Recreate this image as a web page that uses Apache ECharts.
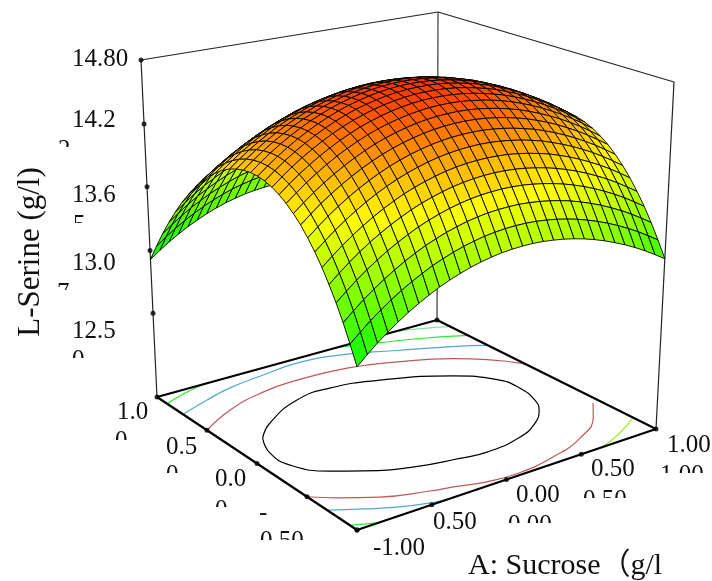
<!DOCTYPE html>
<html>
<head>
<meta charset="utf-8">
<title>L-Serine response surface</title>
<script src="https://cdn.jsdelivr.net/npm/echarts@6/dist/echarts.min.js"></script>
<style>html,body{margin:0;background:#fff}#chart{width:712px;height:581px}</style>
</head>
<body>
<div id="chart"></div>
<script>
// coded levels of both factors, one mesh line each
const gridCoded = [-1,-0.933,-0.867,-0.8,-0.733,-0.667,-0.6,-0.533,-0.467,-0.4,-0.333,-0.267,-0.2,-0.133,-0.067,0,0.067,0.133,0.2,0.267,0.333,0.4,0.467,0.533,0.6,0.667,0.733,0.8,0.867,0.933,1];

// L-Serine, one row per A level, one column per B level
const surfaceZ = [
[13.051,13.203,13.346,13.477,13.597,13.708,13.807,13.895,13.974,14.040,14.097,14.143,14.178,14.203,14.217,14.220,14.212,14.195,14.166,14.126,14.077,14.016,13.944,13.863,13.769,13.666,13.552,13.427,13.292,13.146,12.989],
[13.125,13.277,13.419,13.550,13.670,13.780,13.879,13.966,14.045,14.111,14.167,14.213,14.247,14.272,14.285,14.288,14.280,14.262,14.233,14.192,14.143,14.081,14.009,13.928,13.833,13.730,13.615,13.490,13.355,13.208,13.051],
[13.196,13.347,13.489,13.619,13.738,13.848,13.947,14.034,14.112,14.177,14.233,14.278,14.313,14.337,14.350,14.352,14.343,14.325,14.295,14.255,14.205,14.143,14.070,13.988,13.893,13.790,13.675,13.549,13.413,13.266,13.108],
[13.261,13.412,13.553,13.683,13.802,13.912,14.009,14.096,14.174,14.239,14.294,14.339,14.373,14.397,14.409,14.411,14.402,14.383,14.353,14.312,14.262,14.199,14.126,14.044,13.949,13.844,13.729,13.603,13.467,13.319,13.161],
[13.321,13.472,13.613,13.742,13.861,13.970,14.067,14.154,14.231,14.295,14.350,14.395,14.428,14.451,14.464,14.465,14.455,14.437,14.406,14.364,14.314,14.251,14.177,14.094,13.999,13.894,13.778,13.652,13.515,13.367,13.209],
[13.377,13.527,13.667,13.796,13.914,14.023,14.120,14.206,14.283,14.347,14.402,14.445,14.478,14.501,14.513,14.514,14.504,14.485,14.454,14.412,14.360,14.297,14.223,14.140,14.044,13.939,13.823,13.696,13.559,13.410,13.251],
[13.428,13.577,13.718,13.846,13.964,14.072,14.169,14.254,14.331,14.394,14.449,14.492,14.525,14.547,14.559,14.559,14.548,14.529,14.497,14.455,14.403,14.340,14.265,14.182,14.085,13.980,13.863,13.736,13.598,13.450,13.290],
[13.474,13.623,13.763,13.891,14.008,14.117,14.213,14.298,14.374,14.437,14.491,14.534,14.566,14.588,14.599,14.599,14.588,14.568,14.536,14.493,14.441,14.377,14.302,14.218,14.121,14.015,13.899,13.771,13.633,13.484,13.324],
[13.517,13.665,13.805,13.933,14.049,14.157,14.252,14.337,14.413,14.475,14.529,14.572,14.603,14.625,14.635,14.635,14.624,14.603,14.571,14.527,14.475,14.411,14.335,14.251,14.154,14.047,13.930,13.801,13.663,13.514,13.353],
[13.553,13.701,13.840,13.968,14.084,14.191,14.286,14.370,14.446,14.508,14.561,14.603,14.634,14.656,14.666,14.665,14.653,14.632,14.600,14.556,14.503,14.438,14.362,14.278,14.180,14.073,13.955,13.826,13.688,13.538,13.377],
[13.585,13.733,13.872,13.999,14.114,14.221,14.316,14.400,14.475,14.536,14.589,14.631,14.662,14.682,14.692,14.691,14.679,14.658,14.624,14.580,14.527,14.462,14.385,14.300,14.202,14.095,13.977,13.847,13.708,13.558,13.397],
[13.613,13.760,13.898,14.025,14.140,14.246,14.341,14.424,14.498,14.560,14.612,14.654,14.684,14.704,14.714,14.712,14.699,14.678,14.644,14.599,14.546,14.480,14.404,14.318,14.219,14.112,13.993,13.863,13.724,13.573,13.411],
[13.636,13.783,13.921,14.047,14.162,14.268,14.362,14.444,14.518,14.579,14.631,14.672,14.702,14.722,14.731,14.729,14.716,14.694,14.660,14.615,14.561,14.495,14.418,14.332,14.232,14.124,14.005,13.875,13.735,13.584,13.422],
[13.654,13.801,13.938,14.064,14.178,14.284,14.377,14.460,14.533,14.594,14.645,14.686,14.715,14.735,14.743,14.741,14.728,14.705,14.671,14.625,14.571,14.504,14.427,14.340,14.241,14.132,14.013,13.882,13.742,13.590,13.428],
[13.668,13.814,13.951,14.076,14.190,14.295,14.388,14.470,14.543,14.603,14.655,14.695,14.724,14.743,14.751,14.748,14.734,14.711,14.676,14.630,14.575,14.509,14.431,14.344,14.244,14.135,14.015,13.884,13.743,13.591,13.428],
[13.676,13.822,13.958,14.083,14.197,14.301,14.394,14.476,14.548,14.608,14.659,14.698,14.727,14.746,14.753,14.750,14.736,14.712,14.677,14.631,14.575,14.508,14.430,14.342,14.242,14.133,14.012,13.881,13.740,13.587,13.424],
[13.680,13.826,13.961,14.086,14.200,14.303,14.396,14.477,14.549,14.609,14.659,14.698,14.726,14.745,14.751,14.748,14.734,14.709,14.674,14.627,14.571,14.503,14.425,14.337,14.236,14.127,14.005,13.874,13.732,13.579,13.416],
[13.680,13.825,13.960,14.084,14.197,14.300,14.393,14.474,14.545,14.604,14.654,14.692,14.721,14.739,14.745,14.741,14.726,14.701,14.665,14.619,14.562,14.494,14.415,14.326,14.225,14.116,13.994,13.862,13.720,13.566,13.402],
[13.674,13.819,13.953,14.077,14.190,14.293,14.384,14.465,14.536,14.595,14.644,14.682,14.710,14.728,14.733,14.729,14.714,14.688,14.652,14.605,14.548,14.479,14.400,14.311,14.210,14.099,13.977,13.845,13.703,13.548,13.384],
[13.663,13.808,13.942,14.065,14.178,14.280,14.371,14.452,14.522,14.580,14.629,14.667,14.694,14.711,14.717,14.712,14.696,14.671,14.634,14.586,14.529,14.460,14.380,14.290,14.189,14.078,13.955,13.823,13.680,13.525,13.361],
[13.649,13.793,13.926,14.049,14.161,14.263,14.354,14.434,14.504,14.562,14.611,14.647,14.674,14.691,14.696,14.691,14.675,14.649,14.612,14.564,14.505,14.436,14.356,14.266,14.164,14.053,13.930,13.797,13.654,13.498,13.333],
[13.629,13.772,13.906,14.028,14.140,14.241,14.332,14.411,14.481,14.538,14.587,14.623,14.650,14.666,14.671,14.665,14.648,14.622,14.584,14.536,14.477,14.408,14.327,14.237,14.134,14.023,13.899,13.766,13.622,13.467,13.301],
[13.605,13.748,13.881,14.003,14.114,14.216,14.306,14.385,14.454,14.511,14.559,14.595,14.621,14.637,14.641,14.635,14.618,14.591,14.553,14.504,14.445,14.375,14.294,14.203,14.100,13.988,13.865,13.731,13.587,13.431,13.265],
[13.576,13.718,13.851,13.973,14.083,14.184,14.273,14.352,14.421,14.477,14.525,14.561,14.586,14.602,14.605,14.599,14.582,14.554,14.516,14.466,14.407,14.337,14.255,14.164,14.061,13.948,13.824,13.689,13.545,13.389,13.222],
[13.542,13.684,13.816,13.938,14.048,14.148,14.237,14.315,14.384,14.440,14.487,14.522,14.547,14.563,14.566,14.559,14.541,14.513,14.475,14.425,14.365,14.294,14.212,14.121,14.017,13.904,13.779,13.644,13.500,13.343,13.176],
[13.503,13.645,13.777,13.898,14.007,14.107,14.196,14.274,14.342,14.397,14.444,14.479,14.504,14.518,14.521,14.514,14.496,14.468,14.428,14.378,14.318,14.247,14.164,14.072,13.968,13.855,13.730,13.594,13.449,13.292,13.125],
[13.461,13.602,13.733,13.854,13.963,14.062,14.151,14.228,14.295,14.351,14.397,14.432,14.456,14.470,14.473,14.465,14.446,14.418,14.378,14.327,14.267,14.195,14.113,14.020,13.915,13.802,13.676,13.540,13.395,13.237,13.069],
[13.413,13.554,13.685,13.805,13.914,14.013,14.101,14.177,14.244,14.299,14.345,14.379,14.403,14.417,14.419,14.411,14.392,14.363,14.323,14.272,14.211,14.139,14.056,13.963,13.857,13.743,13.617,13.481,13.335,13.177,13.009],
[13.360,13.501,13.631,13.751,13.859,13.958,14.045,14.122,14.188,14.243,14.288,14.322,14.345,14.359,14.360,14.352,14.333,14.303,14.263,14.211,14.150,14.077,13.994,13.900,13.795,13.680,13.554,13.417,13.271,13.112,12.944],
[13.303,13.443,13.573,13.692,13.800,13.898,13.985,14.061,14.127,14.181,14.227,14.260,14.283,14.296,14.297,14.288,14.268,14.238,14.197,14.145,14.083,14.011,13.927,13.833,13.727,13.612,13.485,13.348,13.201,13.042,12.873],
[13.241,13.381,13.510,13.629,13.737,13.834,13.921,13.997,14.062,14.116,14.161,14.193,14.216,14.229,14.229,14.220,14.200,14.169,14.128,14.076,14.013,13.940,13.856,13.761,13.655,13.540,13.412,13.275,13.128,12.968,12.799]
];

const zTicks = [14.8, 14.22, 13.65, 13.07, 12.5];
const floorTicks = [-1, -0.5, 0, 0.5, 1];

// floor contours as [A, B] pairs
const contourBlack = [[-.79,.245],[-.645,.38],[-.337,.543],[-.086,.57],[.212,.496],[.58,.304],[.744,.112],[.77,-.062],[.735,-.247],[.673,-.37],[.55,-.5],[.374,-.6],[.12,-.644],[-.044,-.616],[-.314,-.548],[-.563,-.42],[-.715,-.313],[-.856,-.122],[-.864,.066],[-.79,.245]];
const contourRedTop = [[-1,.5],[-.738,.642],[-.438,.734],[-.178,.76],[.158,.736],[.444,.646],[.728,.498],[.87,.372],[1,.196]];
const contourRedBottom = [[-1,-.5],[-.87,-.61],[-.673,-.745],[-.41,-.854],[-.28,-.892],[-.1,-.955],[.105,-.975],[.362,-.928],[.62,-.822],[.844,-.638],[.955,-.485]];
const contourBlueTop = [[-1,.74],[-.772,.82],[-.57,.88],[-.3,.92],[-.04,.948],[.22,.91],[.54,.777],[.83,.64],[1,.534]];
const contourBlueBottom = [[-1,-.7],[-.83,-.81],[-.67,-.905],[-.496,-.976],[-.378,-1]];
const contourGreenFront = [[-1,-.93],[-.93,-.964],[-.86,-1]];
const contourGreenLeft = [[-1,.9],[-.814,.964],[-.643,1]];
const contourLimeRight = [[.64,-1],[.82,-.912],[1,-.79]];
const contourGreenBack = [[.286,1],[.53,.92],[.752,.84],[1,.717]];
const contourPaleBack = [[.7,1],[.85,.95],[1,.88]];

const zLabels = ['14.80', '14.2', '13.6', '13.0', '12.5'];
const bLabels = ['1.0', '0.5', '0.0', '-'];
const aLabels = ['-1.00', '0.50', '0.00', '0.50', '1.00'];

// cube corners on screen, floor and top
const FL = {F: [357, 530], R: [656, 429], L: [157, 397], B: [437, 320]};
const TP = {F: [357, 149], R: [674, 82], L: [141, 60], B: [438, 12]};
const zFloor = 11.74, zTop = 14.8;

function bil(q, s, t, k) {
  return q.F[k] * (1 - s) * (1 - t) + q.R[k] * s * (1 - t) + q.L[k] * (1 - s) * t + q.B[k] * s * t;
}
function project(a, b, z) {
  const s = (a + 1) / 2, t = (b + 1) / 2, f = (z - zFloor) / (zTop - zFloor);
  return [0, 1].map(k => bil(FL, s, t, k) * (1 - f) + bil(TP, s, t, k) * f);
}

// back cells first, the front corner is painted last
const cells = [];
for (let i = gridCoded.length - 2; i >= 0; i--) {
  for (let j = gridCoded.length - 2; j >= 0; j--) {
    cells.push([i, j, (surfaceZ[i][j] + surfaceZ[i + 1][j] + surfaceZ[i][j + 1] + surfaceZ[i + 1][j + 1]) / 4]);
  }
}

function pathSeries(points, color, width, z, smooth) {
  return {
    type: 'line', data: points, showSymbol: false, smooth: smooth || false, z: z, silent: true,
    lineStyle: {color: color, width: width}, animation: false
  };
}
function floorLine(pts, color) {
  return pathSeries(pts.map(p => project(p[0], p[1], zFloor)), color, 1.2, 2, 0.5);
}

const series = [
  // thin box edges
  pathSeries([project(-1, 1, zFloor), project(-1, 1, zTop), project(1, 1, zTop), project(1, -1, zTop), project(1, -1, zFloor)], '#222', 1.2, 1),
  pathSeries([project(1, 1, zFloor), project(1, 1, zTop)], '#555', 1.4, 1),
  // floor edges
  pathSeries([project(-1, -1, zFloor), project(1, -1, zFloor), project(1, 1, zFloor), project(-1, 1, zFloor), project(-1, -1, zFloor)], '#000', 2.2, 3),
  floorLine(contourBlack, '#000'),
  floorLine(contourRedTop, '#c0585a'),
  floorLine(contourRedBottom, '#c0585a'),
  floorLine(contourBlueTop, '#4fa9c9'),
  floorLine(contourBlueBottom, '#4fa9c9'),
  floorLine(contourGreenFront, '#2ce82c'),
  floorLine(contourGreenLeft, '#2ce82c'),
  floorLine(contourLimeRight, '#9cf02a'),
  floorLine(contourGreenBack, '#2ce82c'),
  floorLine(contourPaleBack, '#7fe89a'),
  {
    type: 'custom', data: cells, z: 5, silent: true, animation: false,
    renderItem: function (params, api) {
      const i = api.value(0), j = api.value(1);
      const points = [[i, j], [i + 1, j], [i + 1, j + 1], [i, j + 1]].map(function (c) {
        return api.coord(project(gridCoded[c[0]], gridCoded[c[1]], surfaceZ[c[0]][c[1]]));
      });
      return {type: 'polygon', shape: {points: points}, style: {fill: api.visual('color'), stroke: '#000', lineWidth: 0.9}};
    }
  },
  {
    type: 'scatter', symbolSize: 5, z: 6, silent: true, animation: false, itemStyle: {color: '#000'},
    data: zTicks.map(v => project(-1, 1, v)).concat(
      floorTicks.map(v => project(-1, v, zFloor)),
      floorTicks.map(v => project(v, -1, zFloor)),
      [project(1, 1, zFloor)])
  }
];

const FONT = '25px "Liberation Serif"';
const TITLE_FONT = '30px "Liberation Serif", "Noto Sans CJK SC"';
function label(text, x, y) {
  return {type: 'text', z: 10, style: {text: text, x: x, y: y, font: FONT, fill: '#111', verticalAlign: 'middle'}};
}
// second line of each wrapped tick label, only its top shows
function sliver(text, x, top, h) {
  return [
    {type: 'text', z: 10, style: {text: text, x: x, y: top + 8, font: FONT, fill: '#111', verticalAlign: 'middle'}},
    {type: 'rect', z: 11, shape: {x: x - 2, y: top + h, width: text.length * 14 + 4, height: 24}, style: {fill: '#fff'}}
  ];
}
const elements = [
  label(zLabels[0], 72, 59), label(zLabels[1], 72, 120), label(zLabels[2], 72, 195), label(zLabels[3], 72, 263), label(zLabels[4], 72, 331),
  label(bLabels[0], 117, 412), label(bLabels[1], 166, 447), label(bLabels[2], 215, 479), label(bLabels[3], 259, 513),
  label(aLabels[0], 373, 548), label(aLabels[1], 433, 522), label(aLabels[2], 516, 495), label(aLabels[3], 591, 469), label(aLabels[4], 667, 445)
].concat(
  sliver('2', 58, 142, 5), sliver('5', 73, 217, 6), sliver('7', 57, 285, 5), sliver('0', 72, 352, 6),
  sliver('0', 115, 433, 7), sliver('0', 166, 467, 6), sliver('0', 215, 502, 5),
  sliver('0.50', 260, 533, 7), sliver('1.00', 660, 467, 6), sliver('0.50', 583, 492, 6), sliver('0.00', 508, 517, 6),
  [
    {type: 'text', z: 12, style: {text: 'A: Sucrose（g/l', x: 468, y: 566, font: TITLE_FONT, fill: '#111', verticalAlign: 'middle'}},
    {type: 'text', z: 12, rotation: Math.PI / 2, x: 31, y: 252, style: {text: 'L-Serine (g/l)', x: 0, y: 0, font: '31px "Liberation Serif"', fill: '#111', align: 'center', verticalAlign: 'middle'}}
  ]
);

const chart = echarts.init(document.getElementById('chart'), null, {renderer: 'canvas'});
chart.setOption({
  animation: false,
  backgroundColor: '#fff',
  grid: {left: 0, right: 0, top: 0, bottom: 0},
  xAxis: {type: 'value', min: 0, max: 712, show: false},
  yAxis: {type: 'value', min: 0, max: 581, inverse: true, show: false},
  visualMap: {show: false, type: 'continuous', seriesIndex: 13, dimension: 2, min: 13.04, max: 14.96, inRange: {color: ['#00ff00', '#ffff00', '#ff0000']}},
  graphic: {elements: elements},
  series: series
});
</script>
</body>
</html>
